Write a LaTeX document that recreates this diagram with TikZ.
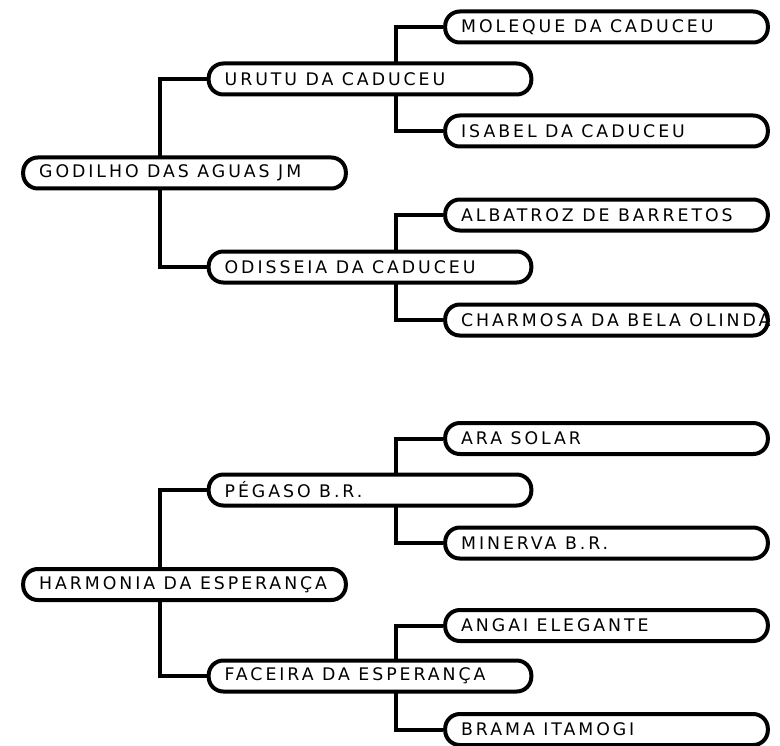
\documentclass[tikz,border=0pt]{standalone}
\usepackage{fontspec}
\usetikzlibrary{backgrounds}
\newfontfamily\cavalo{DejaVu Sans}[LetterSpace=17]
\newcommand\nome[1]{\makebox[218pt][l]{#1}}

\begin{document}
\begin{tikzpicture}[x=0.75pt,y=-0.75pt,
  animal/.style={draw,line width=3pt,fill=white,rounded corners=11pt,
    minimum width=242pt,minimum height=23.25pt,inner xsep=12pt,inner ysep=0pt,
    font=\cavalo\fontsize{13}{15}\selectfont},
  link/.style={line width=3pt}]
\useasboundingbox (0,0) rectangle (780,745);
% first family
\node[animal] (godilho) at (184.5,173) {\nome{GODILHO DAS AGUAS JM}};
\node[animal] (urutu) at (370,79) {\nome{URUTU DA CADUCEU}};
\node[animal] (moleque) at (606.5,27) {\nome{MOLEQUE DA CADUCEU}};
\node[animal] (isabel) at (606.5,131) {\nome{ISABEL DA CADUCEU}};
\node[animal] (odisseia) at (370,267) {\nome{ODISSEIA DA CADUCEU}};
\node[animal] (albatroz) at (606.5,215) {\nome{ALBATROZ DE BARRETOS}};
\node[animal] (charmosa) at (606.5,320) {\nome{CHARMOSA DA BELA OLINDA}};
% second family
\node[animal] (harmonia) at (184.5,584.5) {\nome{HARMONIA DA ESPERANÇA}};
\node[animal] (pegaso) at (370,490) {\nome{PÉGASO B.R.}};
\node[animal] (ara) at (606.5,438.5) {\nome{ARA SOLAR}};
\node[animal] (minerva) at (606.5,543) {\nome{MINERVA B.R.}};
\node[animal] (faceira) at (370,676) {\nome{FACEIRA DA ESPERANÇA}};
\node[animal] (angai) at (606.5,625.5) {\nome{ANGAI ELEGANTE}};
\node[animal] (brama) at (606.5,729.5) {\nome{BRAMA ITAMOGI}};
\begin{scope}[on background layer]
\foreach \pai/\filho in {godilho/urutu,godilho/odisseia,urutu/moleque,urutu/isabel,
    odisseia/albatroz,odisseia/charmosa,harmonia/pegaso,harmonia/faceira,
    pegaso/ara,pegaso/minerva,faceira/angai,faceira/brama}
  \draw[link] (\filho.west) -- ++(-47,0) |- (\pai.center);
\end{scope}
\end{tikzpicture}
\end{document}
